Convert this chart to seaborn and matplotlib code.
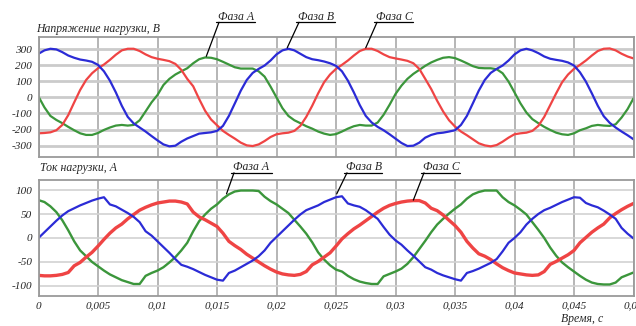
import numpy as np
import pandas as pd
import matplotlib
matplotlib.use('Agg')
import matplotlib.pyplot as plt
from matplotlib.lines import Line2D
import seaborn as sns

# time grid, ms, step 0.5 ms (read points every 0.5 ms from the scan)
t_ms = np.arange(0, 50.5, 0.5)

# load voltage, V
u_a = [5, -62, -115, -140, -160, -183, -204, -223, -233, -233, -221, -202, -187, -175, -171, -175, -171, -142, -87, -31, 15, 77, 115, 142, 162, 181,
       212, 237, 248, 246, 237, 221, 204, 187, 179, 179, 179, 162, 129, 67, 0, -67, -115, -142, -160, -179, -194, -212, -225, -233, -228,
       -212, -194, -179, -171, -175, -175, -156, -108, -46, 21, 73, 115, 146, 171, 196, 217, 233, 246, 250, 244, 229, 212, 194, 183,
       181, 181, 175, 150, 98, 31, -37, -94, -135, -160, -183, -202, -219, -229, -233, -223, -204, -192, -177, -171, -175, -177, -167, -125, -73, -6]
u_b = [271, 292, 302, 298, 281, 260, 246, 235, 229, 221, 202, 162, 104, 31, -52, -121, -162, -187, -212, -240, -267, -292, -304, -300, -275, -255,
       -240, -225, -221, -217, -208, -177, -115, -37, 42, 108, 152, 177, 198, 229, 267, 292, 302, 292, 271, 250, 237, 231, 223, 212, 196,
       162, 104, 31, -48, -115, -156, -183, -204, -229, -256, -283, -302, -300, -281, -250, -233, -223, -219, -212, -204, -171, -115, -37, 42,
       108, 152, 177, 198, 229, 267, 292, 302, 292, 275, 254, 240, 233, 227, 217, 198, 156, 98, 25, -52, -117, -158, -187, -212, -235, -260]
u_c = [-223, -221, -217, -204, -171, -110, -31, 46, 108, 150, 181, 204, 233, 265, 292, 302, 302, 288, 267, 250, 240, 233, 225, 208, 171, 115,
       69, -10, -83, -137, -173, -208, -233, -256, -281, -298, -302, -292, -271, -246, -229, -223, -219, -208, -177, -121, -52, 25, 94, 142, 177,
       202, 229, 260, 288, 302, 302, 288, 267, 250, 242, 235, 227, 212, 177, 115, 52, -21, -87, -142, -181, -212, -235, -260, -285,
       -298, -304, -296, -275, -250, -229, -223, -219, -208, -177, -121, -48, 25, 94, 142, 177, 202, 229, 260, 288, 302, 304, 292, 271, 254, 242]

# load current, A
i_a = [79, 75, 66, 54, 37, 16, -7, -26, -38, -50, -59, -68, -76, -82, -88, -92, -96, -96, -79, -73, -68, -61, -51, -40, -26, -10,
       14, 35, 49, 61, 70, 82, 91, 97, 99, 99, 99, 98, 86, 77, 70, 61, 52, 38, 24, 9, -9, -30, -45, -57, -66,
       -70, -79, -86, -91, -94, -96, -96, -80, -75, -70, -64, -54, -40, -23, -6, 12, 28, 40, 51, 61, 70, 82, 91, 96,
       99, 99, 99, 85, 75, 68, 59, 49, 33, 17, 0, -20, -37, -51, -61, -70, -79, -87, -93, -96, -97, -97, -93, -82, -77, -72]
i_b = [0, 12, 24, 36, 47, 56, 62, 68, 73, 78, 82, 85, 70, 66, 59, 52, 44, 33, 14, 5, -7, -19, -31, -44, -56, -60,
       -65, -71, -77, -82, -87, -89, -73, -68, -61, -54, -47, -38, -26, -10, 2, 14, 26, 38, 49, 58, 63, 68, 75, 80, 85,
       87, 72, 68, 65, 58, 49, 40, 23, 7, -5, -14, -26, -37, -49, -61, -66, -73, -78, -82, -86, -89, -73, -69, -64,
       -58, -52, -44, -28, -10, 0, 12, 28, 40, 50, 58, 63, 69, 75, 80, 85, 84, 73, 68, 64, 57, 49, 40, 21, 9, -1]
i_c = [-78, -79, -79, -78, -76, -72, -58, -51, -40, -30, -17, -3, 10, 21, 29, 40, 49, 58, 64, 69, 73, 75, 77, 77, 75, 71,
       54, 44, 38, 31, 24, 10, -7, -16, -24, -34, -42, -50, -58, -65, -71, -75, -77, -78, -76, -70, -56, -49, -40, -31, -17,
       -2, 9, 19, 27, 36, 45, 54, 62, 68, 72, 75, 77, 78, 78, 73, 62, 57, 48, 37, 26, 12, -7, -21, -33,
       -38, -45, -54, -62, -68, -73, -75, -77, -78, -77, -70, -55, -49, -42, -35, -26, -10, 1, 12, 21, 29, 42, 51, 59, 66, 72]

x_ticks = [0, 0.005, 0.01, 0.015, 0.02, 0.025, 0.03, 0.035, 0.04, 0.045, 0.05]
x_labels = ['0', '0,005', '0,01', '0,015', '0,02', '0,025', '0,03', '0,035', '0,04', '0,045', '0,05']
u_ticks = [-300, -200, -100, 0, 100, 200, 300]
i_ticks = [-100, -50, 0, 50, 100]

GREEN = '#3b963b'
BLUE = '#2b2bd6'
RED = '#ef4444'

sns.set_style('white')
plt.rcParams['font.family'] = ['Liberation Serif', 'DejaVu Serif']
plt.rcParams['font.style'] = 'italic'

W, H = 636, 326
fig = plt.figure(figsize=(W / 100, H / 100), dpi=100)

def fx(px):
    return px / W

def fy(py):
    return 1 - py / H

ax1 = fig.add_axes([fx(38.5), fy(156.5), fx(633.5) - fx(38.5), fy(37) - fy(156.5)])
ax2 = fig.add_axes([fx(38.5), fy(295.5), fx(633.5) - fx(38.5), fy(179.5) - fy(295.5)])

t = t_ms / 1000.0
df_u = pd.DataFrame({'t': t, 'A': u_a, 'B': u_b, 'C': u_c})
df_i = pd.DataFrame({'t': t, 'A': i_a, 'B': i_b, 'C': i_c})

for col, c in [('A', GREEN), ('C', RED), ('B', BLUE)]:
    sns.lineplot(data=df_u, x='t', y=col, color=c, lw=1.6, ax=ax1)
for col, c, w in [('A', GREEN), ('C', RED), ('B', BLUE)] and [('A', GREEN, 1.7), ('C', RED, 2.4), ('B', BLUE, 1.6)]:
    sns.lineplot(data=df_i, x='t', y=col, color=c, lw=w, ax=ax2)

for ax, yt, ylim in [(ax1, u_ticks, (-367, 375)), (ax2, i_ticks, (-120, 122))]:
    ax.set_xlim(0, 0.05)
    ax.set_ylim(*ylim)
    ax.set_xticks(x_ticks)
    ax.set_yticks(yt)
    ax.set_yticklabels([str(v).replace('-', '-') for v in yt])
    ax.set_xlabel('')
    ax.set_ylabel('')
    ax.grid(axis='x', color='#a9a9a9', lw=1.2)
    ax.set_axisbelow(True)
    ax.tick_params(length=0, labelsize=8, pad=4.5)
    for s in ax.spines.values():
        s.set_color('#9a9a9a')
        s.set_linewidth(1.3)

ax1.grid(axis='y', color='#cbcbcb', lw=2.0)
ax2.grid(axis='y', color='#d2d2d2', lw=1.2)
ax1.set_xticklabels([])
ax2.set_xticklabels(x_labels)

fig.text(fx(36), fy(32), 'Напряжение нагрузки, В', fontsize=8.5, ha='left', va='baseline')
fig.text(fx(40), fy(171), 'Ток нагрузки, А', fontsize=8.5, ha='left', va='baseline')
fig.text(fx(561), fy(322), 'Время, с', fontsize=8.5, ha='left', va='baseline')

# phase callouts: label, underline, leader line to the curve
callouts = [
    (ax1, 'Фаза А', 218, 20, 216, 255, (0.0141, 255)),
    (ax1, 'Фаза В', 298, 20, 296, 335, (0.0209, 308)),
    (ax1, 'Фаза С', 376, 20, 374, 413, (0.0275, 308)),
    (ax2, 'Фаза А', 233, 170.5, 231, 272, (0.0158, 92)),
    (ax2, 'Фаза В', 346, 170.5, 344, 382, (0.02506, 92)),
    (ax2, 'Фаза С', 423, 170.5, 421, 460, (0.0315, 79)),
]
for ax, txt, tx, ty, u0, u1, xy in callouts:
    fig.text(fx(tx), fy(ty), txt, fontsize=8.5, ha='left', va='baseline')
    fig.add_artist(Line2D([fx(u0), fx(u1)], [fy(ty + 2.3), fy(ty + 2.3)],
                          transform=fig.transFigure, color='black', lw=0.9))
    ax.annotate('', xy=xy, xycoords='data',
                xytext=(fx(u0 + 3), fy(ty + 2.3)), textcoords='figure fraction',
                arrowprops=dict(arrowstyle='-', color='black', lw=0.9,
                                shrinkA=0, shrinkB=0))

fig.savefig('out.png', dpi=100)
